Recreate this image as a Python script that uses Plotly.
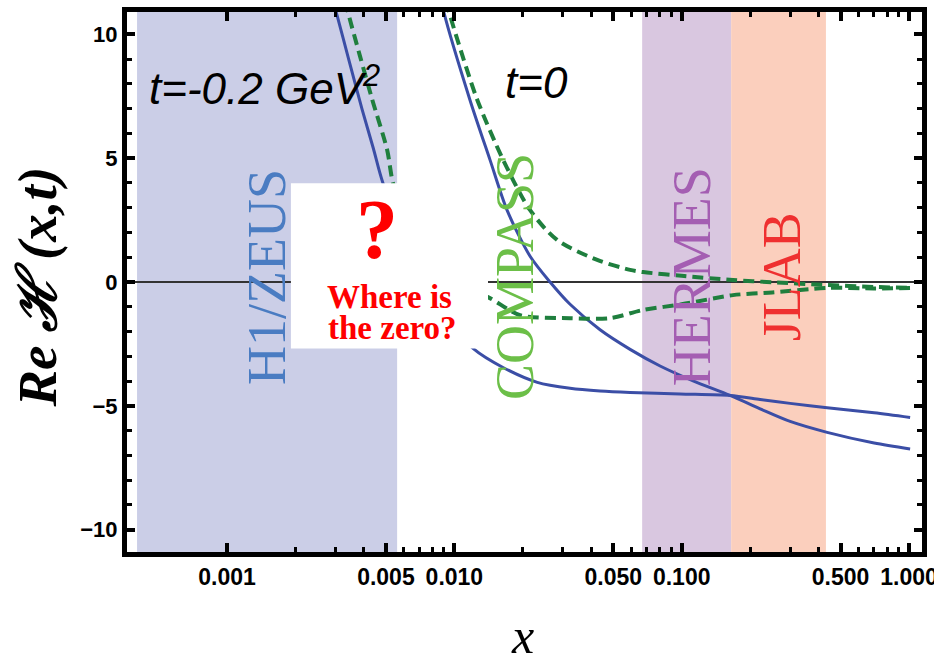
import plotly.graph_objects as go

# ---------------- data ----------------
# t = -0.2 GeV^2 curves
blue_t02_x = [0.00285, 0.00299, 0.00345, 0.00393, 0.00440, 0.00485, 0.0060, 0.0075, 0.0095,
              0.01208, 0.01637, 0.02317, 0.03228, 0.04375, 0.05929, 0.0983, 0.1633, 0.2213,
              0.2998, 0.4362, 0.7023, 1.011]
blue_t02_y = [11.7, 11.05, 8.9, 6.96, 5.4, 4.0, 2.0, 0.3, -1.6,
              -2.68, -3.45, -4.05, -4.29, -4.40, -4.46, -4.52, -4.58, -4.74,
              -4.90, -5.08, -5.28, -5.47]

green_t02_x = [0.0032, 0.00337, 0.00385, 0.00435, 0.00506, 0.00537, 0.0065, 0.0085, 0.0110,
               0.01406, 0.01945, 0.0323, 0.0484, 0.0676, 0.100, 0.168, 0.25, 0.436, 0.70, 1.01]
green_t02_y = [12.0, 11.05, 9.1, 7.37, 5.34, 4.0, 1.8, 0.3, -0.25,
               -0.61, -1.34, -1.46, -1.46, -1.13, -0.90, -0.53, -0.42, -0.24, -0.26, -0.24]

# t = 0 curves
blue_t0_x = [0.0086, 0.00892, 0.01172, 0.01436, 0.01705, 0.02153, 0.02636, 0.03228, 0.04375,
             0.05929, 0.08035, 0.1122, 0.1633, 0.2213, 0.2998, 0.4362, 0.7023, 1.011]
blue_t0_y = [11.8, 11.02, 7.34, 4.92, 2.90, 1.04, 0.0, -0.90, -1.93,
             -2.72, -3.39, -3.99, -4.58, -5.12, -5.63, -6.07, -6.50, -6.74]

green_t0_x = [0.0089, 0.00938, 0.0108, 0.01259, 0.01637, 0.0215, 0.0283, 0.0425, 0.0593,
              0.0676, 0.100, 0.168, 0.25, 0.436, 0.70, 1.01]
green_t0_y = [12.0, 11.05, 9.2, 7.37, 4.94, 2.91, 1.70, 0.89, 0.49,
              0.40, 0.25, 0.08, -0.01, -0.12, -0.20, -0.24]

# experimental kinematic ranges in x
experiments = ["H1/ZEUS", "HERMES", "JLAB"]
exp_xmin = [4.02e-4, 0.067, 0.165]
exp_xmax = [5.6e-3, 0.165, 0.431]
exp_fill = ["#cbcee7", "#d9c7e0", "#fbcfbd"]

# vertical labels (log10 x position)
label_text = ["H1/ZEUS", "COMPASS", "HERMES", "JLAB"]
label_logx = [-2.824, -1.733, -0.954, -0.558]
label_color = ["#4a7cc2", "#6cbf48", "#a45eb2", "#ef3030"]

# ticks
x_tickvals = [0.001, 0.005, 0.01, 0.05, 0.1, 0.5, 1.0]
x_ticktext = ["0.001", "0.005", "0.010", "0.050", "0.100", "0.500", "1.000"]
x_minor = [0.002, 0.003, 0.004, 0.006, 0.007, 0.008, 0.009,
           0.02, 0.03, 0.04, 0.06, 0.07, 0.08, 0.09,
           0.2, 0.3, 0.4, 0.6, 0.7, 0.8, 0.9]
y_tickvals = [-10, -5, 0, 5, 10]

BLUE = "#3b4ea6"
GREEN = "#1f7f3e"

fig = go.Figure()

blue_line = dict(color=BLUE, width=3, shape="spline", smoothing=0.8)
green_line = dict(color=GREEN, width=4, dash="11px,6px", shape="spline", smoothing=0.8)

fig.add_trace(go.Scatter(x=blue_t02_x, y=blue_t02_y, mode="lines", line=blue_line,
                         showlegend=False, hoverinfo="skip"))
fig.add_trace(go.Scatter(x=blue_t0_x, y=blue_t0_y, mode="lines", line=blue_line,
                         showlegend=False, hoverinfo="skip"))
fig.add_trace(go.Scatter(x=green_t02_x, y=green_t02_y, mode="lines", line=green_line,
                         showlegend=False, hoverinfo="skip"))
fig.add_trace(go.Scatter(x=green_t0_x, y=green_t0_y, mode="lines", line=green_line,
                         showlegend=False, hoverinfo="skip"))

shapes = []
for x0, x1, c in zip(exp_xmin, exp_xmax, exp_fill):
    shapes.append(dict(type="rect", xref="x", yref="paper", x0=x0, x1=x1, y0=0, y1=1,
                       fillcolor=c, line=dict(width=0), layer="below"))
# white "where is the zero" box
shapes.append(dict(type="rect", xref="x", yref="y", x0=0.00191, x1=0.01406, y0=-2.68, y1=3.99,
                   fillcolor="white", line=dict(width=0), layer="above"))

annotations = []
for t, lx, c in zip(label_text, label_logx, label_color):
    annotations.append(dict(text=t, x=lx, y=0.2, xref="x", yref="y", showarrow=False,
                            xanchor="center", yanchor="middle",
                            textangle=-90, font=dict(family="Liberation Serif", size=54, color=c)))

annotations += [
    dict(text="<i>t=-0.2 GeV<sup>2</sup></i>", x=-3.352, y=7.95, xref="x", yref="y",
         xanchor="left", yanchor="middle", showarrow=False,
         font=dict(family="Liberation Sans", size=44, color="black")),
    dict(text="<i>t=0</i>", x=-1.785, y=8.05, xref="x", yref="y",
         xanchor="left", yanchor="middle", showarrow=False,
         font=dict(family="Liberation Sans", size=44, color="black")),
    dict(text="<b>?</b>", x=-2.34, y=2.1, xref="x", yref="y", showarrow=False,
         xanchor="center", yanchor="middle",
         font=dict(family="Liberation Serif", size=84, color="#ff0000")),
    dict(text="<b>Where is</b>", x=-2.287, y=-0.62, xref="x", yref="y", showarrow=False,
         xanchor="center", yanchor="middle",
         font=dict(family="Liberation Serif", size=33, color="#ff0000")),
    dict(text="<b>the zero?</b>", x=-2.272, y=-1.85, xref="x", yref="y", showarrow=False,
         xanchor="center", yanchor="middle",
         font=dict(family="Liberation Serif", size=33, color="#ff0000")),
    dict(text="<b><i>Re ℋ (x,t)</i></b>", x=-0.113, y=0.49, xref="paper", yref="paper",
         xanchor="center", yanchor="middle", showarrow=False, textangle=-90,
         font=dict(family="Liberation Serif", size=55, color="black")),
    dict(text="<i>x</i>", x=0.498, y=-0.156, xref="paper", yref="paper", showarrow=False,
         xanchor="center", yanchor="middle",
         font=dict(family="Liberation Serif", size=50, color="black")),
]

fig.update_layout(
    width=934, height=657,
    margin=dict(l=127, r=12, t=12, b=105, autoexpand=False),
    paper_bgcolor="white", plot_bgcolor="white",
    shapes=shapes, annotations=annotations,
    xaxis=dict(type="log", range=[-3.44, 0.057], tickvals=x_tickvals, ticktext=x_ticktext,
               automargin=False, ticklabeloverflow="allow",
               ticks="inside", ticklen=9, tickwidth=4, tickcolor="black",
               showline=True, linewidth=5, linecolor="black", mirror="ticks",
               showgrid=False, zeroline=False,
               tickfont=dict(family="Liberation Sans", size=23, color="black", weight="bold"),
               minor=dict(tickvals=x_minor, ticks="inside", ticklen=5, tickwidth=2.5,
                          tickcolor="black", showgrid=False)),
    yaxis=dict(range=[-10.9, 10.9], tickvals=y_tickvals, automargin=False,
               ticks="inside", ticklen=8, tickwidth=4, tickcolor="black",
               showline=True, linewidth=5, linecolor="black", mirror="ticks",
               showgrid=False, zeroline=True, zerolinecolor="#333333", zerolinewidth=1.5,
               tickfont=dict(family="Liberation Sans", size=22, color="black", weight="bold"),
               minor=dict(dtick=1, ticks="inside", ticklen=5, tickwidth=2.5,
                          tickcolor="black", showgrid=False)),
)

fig.write_html("out.html")
